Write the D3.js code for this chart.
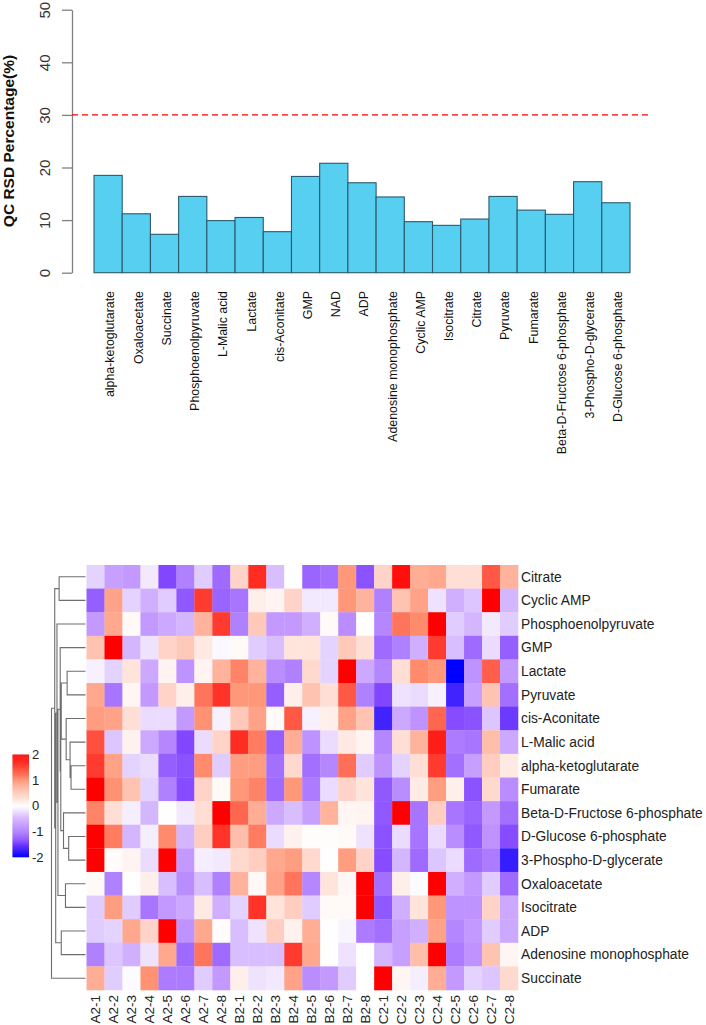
<!DOCTYPE html>
<html>
<head>
<meta charset="utf-8">
<script src="https://d3js.org/d3.v7.min.js"></script>
<style>
	html, body { margin: 0; padding: 0; background: #fff; }
	svg { display: block; }
	text { font-family: "Liberation Sans", Arial, sans-serif; fill: #222; }
</style>
</head>
<body>
<script>

var svgWidth = 706
var svgHeight = 1025

// top chart
var metabolites = ["alpha-ketoglutarate", "Oxaloacetate", "Succinate", "Phosphoenolpyruvate", "L-Malic acid", "Lactate", "cis-Aconitate", "GMP", "NAD", "ADP", "Adenosine monophosphate", "Cyclic AMP", "Isocitrate", "Citrate", "Pyruvate", "Fumarate", "Beta-D-Fructose 6-phosphate", "3-Phospho-D-glycerate", "D-Glucose 6-phosphate"]
var rsd = [18.5, 11.2, 7.3, 14.5, 9.9, 10.5, 7.8, 18.3, 20.8, 17.1, 14.4, 9.7, 9.0, 10.2, 14.5, 11.9, 11.1, 17.3, 13.3]
var rsdTicks = [0, 10, 20, 30, 40, 50]
var rsdLimit = 30

// heatmap
var samples = ["A2-1", "A2-2", "A2-3", "A2-4", "A2-5", "A2-6", "A2-7", "A2-8", "B2-1", "B2-2", "B2-3", "B2-4", "B2-5", "B2-6", "B2-7", "B2-8", "C2-1", "C2-2", "C2-3", "C2-4", "C2-5", "C2-6", "C2-7", "C2-8"]
var rows = ["Citrate", "Cyclic AMP", "Phosphoenolpyruvate", "GMP", "Lactate", "Pyruvate", "cis-Aconitate", "L-Malic acid", "alpha-ketoglutarate", "Fumarate", "Beta-D-Fructose 6-phosphate", "D-Glucose 6-phosphate", "3-Phospho-D-glycerate", "Oxaloacetate", "Isocitrate", "ADP", "Adenosine monophosphate", "Succinate"]
var zscores = [
	[-0.3, -0.65, -0.7, -0.15, -1.4, -0.9, -0.35, -1.1, 0.4, 1.7, -0.45, 0, -1.15, -1.05, 0.95, -1.3, 0.4, 1.9, 0.75, 0.8, 0.3, 0.3, 1.4, 0.7],
	[-1.2, 0.85, -0.3, -0.55, -0.35, -1.25, 1.6, -1.15, -1.0, 0.15, 0.1, 0.4, -0.15, -0.15, 0.95, 0.7, -0.9, 0.55, 0.85, -0.2, -0.55, -0.4, 2, -0.5],
	[-0.7, 0.8, 0.05, -0.7, -0.6, -0.5, 0.7, 1.6, -0.9, 0.5, -0.7, -0.7, -0.55, 0.05, -0.8, 0, -0.85, 1.2, 1.05, 2, -0.35, -0.5, -0.15, -0.35],
	[0.55, 2, -0.5, -0.2, 0.4, 0.5, 0.2, -0.05, 0.05, -0.35, -0.45, 0.25, 0.25, -0.3, 0.5, 0.3, -1.1, -0.9, -0.55, 1.6, -0.45, -1.1, -0.25, -1.2],
	[-0.1, -0.3, 0.25, -0.6, 0.1, -0.75, 0.1, 0.7, 1.1, 0.7, -0.8, -0.9, 0.35, -0.3, 2, -0.6, -0.85, 0.3, 1.05, 0.95, -2, -0.75, 1.35, -0.7],
	[0.8, -1.0, 0.08, -0.7, 0.4, 0.15, 1.2, 1.65, 0.95, 0.95, -1.2, 0.15, 0.55, 0.3, 1.4, -0.9, -1.4, -0.2, -0.25, -0.1, -1.7, -0.65, 0.55, -1.05],
	[0.9, 0.85, 0.3, -0.25, -0.25, -0.7, 1.0, -0.1, 0.5, 0.85, 0.05, 1.4, -0.1, 0.15, 0.85, 0.55, -1.7, -0.6, -0.75, 1.3, -1.35, -1.3, -0.4, -1.5],
	[1.45, -0.4, 0.12, -0.6, -0.85, -1.4, -0.25, 0.4, 1.7, 1.15, -1.2, 0.75, -0.75, -0.25, 0.2, 0.1, -0.85, 0.3, 0.7, 1.8, -0.95, -1.0, 0.6, -0.6],
	[1.6, 0.85, -0.3, -0.25, -1.2, -1.3, 1.05, -0.35, 0.9, 0.9, -1.05, 0.35, -1.05, -0.85, 1.25, -0.35, -0.75, -0.3, 0.3, 1.6, -1.05, -0.65, 0.45, 0.2],
	[2, 1.0, 0.55, -0.3, -0.9, -1.35, 0.4, 0.05, 0.95, 1.1, -1.1, 0.95, -0.95, -0.25, 0.4, 0.25, -1.25, -0.8, 0.18, 0.9, 0.15, -1.3, 0.35, -0.8],
	[1.1, 0.3, -0.12, -0.5, 0, -0.15, 0.3, 2, 1.3, 0.75, -0.6, -0.45, -0.65, 0.7, 0.08, 0.1, -1.25, 2, -1.0, 0.45, -1.0, -1.15, -0.7, -1.05],
	[2, 1.15, -0.5, -0.12, 1.05, -0.5, 0.45, 1.65, 0.6, 1.15, -0.25, 0.12, 0.02, 0.02, 0.05, -0.2, -1.3, -0.25, -1.0, -0.25, -0.8, -1.25, -0.75, -1.35],
	[2, 0.03, 0.1, -0.25, 2, -0.7, -0.12, -0.15, 0.35, 0.45, 0.8, 0.9, 0.35, 0.01, 0.9, 0.4, -1.35, -0.5, -1.1, -0.4, -0.25, -1.1, -0.95, -1.75],
	[0.05, -0.9, 0, 0.15, -0.45, -0.8, -0.45, -0.9, 0.7, 0.06, 0.85, 1.2, -0.85, 0.25, 0.07, 2, -1.05, 0.15, -0.03, 2, -0.55, -0.7, -0.35, -1.1],
	[-0.35, 0.9, -0.35, -1.0, -0.7, -0.6, 0.2, -0.55, -0.3, 1.65, 0.25, 0.45, -0.35, 0.05, 0.05, 2, -1.25, -0.55, 0.25, 0.95, -0.75, -0.75, 0.4, -0.6],
	[-0.35, -0.3, 0.8, 0.4, 2, -0.75, 0.8, 0.03, -0.45, -0.2, 0.45, 0.12, 0.75, 0.01, -0.07, -0.95, -1.05, -0.65, -0.55, 0.85, -0.85, -0.7, -0.35, -0.6],
	[-0.9, -0.4, -0.55, -0.2, 0.8, -1.1, 1.2, -1.1, -0.45, -0.45, -0.45, 1.6, 0.8, 0, -0.2, 0, -0.5, -0.65, 0.6, 2, -0.95, -0.75, 0.55, 0.08],
	[0.75, -0.35, -0.03, 1.0, -0.95, -0.95, -0.35, -0.7, 0.15, -0.2, -0.15, 0.85, -0.8, -0.7, -0.35, 0, 2, 0.08, -0.12, 0.75, -0.7, -0.3, -0.4, 0.35]
]
var legendTicks = [-2, -1, 0, 1, 2]

// row clustering: [height, left, right], a leaf is just the row name
var rowTree = [34.8,
	[31.5,
		[27, "Citrate", "Cyclic AMP"],
		[30.5,
			[29.2,
				"Phosphoenolpyruvate",
				[28.2,
					[25.9,
						"GMP",
						[25.3,
							[24.8,
								[18.8, "Lactate", "Pyruvate"],
								[19.8, "cis-Aconitate",
									[15.8, "L-Malic acid", [14.8, "alpha-ketoglutarate", "Fumarate"]]]
							],
							[22.5, "Beta-D-Fructose 6-phosphate", [17.2, "D-Glucose 6-phosphate", "3-Phospho-D-glycerate"]]
						]
					],
					[20.5, "Oxaloacetate", "Isocitrate"]
				]
			],
			[24.8, "ADP", "Adenosine monophosphate"]
		]
	],
	"Succinate"
]

var svg = d3.select("body").append("svg")
	.attr("width", svgWidth)
	.attr("height", svgHeight)

/////////////// bar chart

var x = d3.scaleBand().domain(metabolites).range([94, 630])
var y = d3.scaleLinear().domain([0, 50]).range([272.7, 9.7])

svg.selectAll("rect.bar")
	.data(metabolites)
	.enter().append("rect")
	.attr("class", "bar")
	.attr("x", function(d) { return x(d) })
	.attr("y", function(d, i) { return y(rsd[i]) })
	.attr("width", x.bandwidth())
	.attr("height", function(d, i) { return y(0) - y(rsd[i]) })
	.style("fill", "#56cff0")
	.style("stroke", "#2c5a6e")
	.style("stroke-width", 1.1)

var yAxis = svg.append("g")
	.attr("transform", "translate(72,0)")
	.call(d3.axisLeft(y).tickValues(rsdTicks).tickSize(10).tickSizeOuter(0))

yAxis.selectAll("path, line").style("stroke", "#808080").style("stroke-width", 1.3)
// tick groups are already placed at y(d), so the label only moves sideways
yAxis.selectAll("text")
	.attr("transform", "translate(-27,0) rotate(-90)")
	.attr("x", 0)
	.attr("y", 0)
	.attr("dy", "0.35em")
	.style("text-anchor", "middle")
	.style("font-family", "Liberation Sans")
	.style("font-size", "15px")
	.style("fill", "#333")

svg.append("text")
	.attr("transform", "translate(9,141) rotate(-90)")
	.attr("dy", "0.35em")
	.style("text-anchor", "middle")
	.style("font-size", "15.5px")
	.style("font-weight", "bold")
	.style("fill", "#111")
	.text("QC RSD Percentage(%)")

svg.append("line")
	.attr("x1", 72)
	.attr("x2", 652)
	.attr("y1", y(rsdLimit))
	.attr("y2", y(rsdLimit))
	.style("stroke", "#ff0000")
	.style("stroke-width", 1.2)
	.style("stroke-dasharray", "6,4")

svg.selectAll("text.barlabel")
	.data(metabolites)
	.enter().append("text")
	.attr("class", "barlabel")
	.attr("transform", function(d) { return "translate(" + (x(d) + x.bandwidth() / 2 + 2) + ",291) rotate(-90)" })
	.attr("dy", "0.35em")
	.style("text-anchor", "end")
	.style("font-size", "12.4px")
	.style("fill", "#111")
	.text(function(d) { return d })

/////////////// heatmap

var cx = d3.scaleBand().domain(samples).range([86.5, 518])
var cy = d3.scaleBand().domain(rows).range([565, 990])

var color = d3.scaleLinear()
	.domain([-2, -1.4, -0.7, 0, 1, 2])
	.range(["#0000ff", "#8246ff", "#c399ff", "#ffffff", "#ff9272", "#ff0000"])
	.clamp(true)

rows.forEach(function(rowName, r) {
	svg.selectAll("rect.r" + r)
		.data(zscores[r])
		.enter().append("rect")
		.attr("class", "r" + r)
		.attr("x", function(d, i) { return cx(samples[i]) })
		.attr("y", cy(rowName))
		.attr("width", cx.bandwidth() + 0.3)
		.attr("height", cy.bandwidth() + 0.3)
		.style("fill", function(d) { return color(d) })
})

svg.selectAll("text.rowlabel")
	.data(rows)
	.enter().append("text")
	.attr("class", "rowlabel")
	.attr("x", 521)
	.attr("y", function(d) { return cy(d) + cy.bandwidth() / 2 })
	.attr("dy", "0.35em")
	.style("font-size", "13.8px")
	.text(function(d) { return d })

svg.selectAll("text.collabel")
	.data(samples)
	.enter().append("text")
	.attr("class", "collabel")
	.attr("transform", function(d) { return "translate(" + (cx(d) + cx.bandwidth() / 2) + ",995) rotate(-90)" })
	.attr("dy", "0.35em")
	.style("text-anchor", "end")
	.style("font-size", "13.5px")
	.text(function(d) { return d })

/////////////// dendrogram

var root = d3.hierarchy(rowTree, function(d) { return typeof d === "string" ? null : d.slice(1) })
var treeX = d3.scaleLinear().domain([0, 34.8]).range([85.5, 51.5])

root.eachAfter(function(n) {
	if (n.children) {
		n.ypos = (n.children[0].ypos + n.children[1].ypos) / 2
		n.h = n.data[0]
	} else {
		n.ypos = cy(n.data) + cy.bandwidth() / 2
		n.h = 0
	}
})

var treePath = d3.path()
root.descendants().forEach(function(n) {
	if (!n.children) return
	var c0 = n.children[0], c1 = n.children[1]
	treePath.moveTo(treeX(c0.h), c0.ypos)
	treePath.lineTo(treeX(n.h), c0.ypos)
	treePath.lineTo(treeX(n.h), c1.ypos)
	treePath.lineTo(treeX(c1.h), c1.ypos)
})

svg.append("path")
	.attr("d", treePath.toString())
	.style("fill", "none")
	.style("stroke", "#6e6e6e")
	.style("stroke-width", 1.1)

/////////////// colour legend

var legendY = d3.scaleLinear().domain([-2, 2]).range([857, 754.5])
var legendSteps = d3.range(-2, 2, 0.04)

svg.selectAll("rect.legend")
	.data(legendSteps)
	.enter().append("rect")
	.attr("class", "legend")
	.attr("x", 12.5)
	.attr("width", 16.5)
	.attr("y", function(d) { return legendY(d + 0.04) })
	.attr("height", legendY(0) - legendY(0.04) + 0.3)
	.style("fill", function(d) { return color(d + 0.02) })

svg.selectAll("text.legendlabel")
	.data(legendTicks)
	.enter().append("text")
	.attr("class", "legendlabel")
	.attr("x", 32)
	.attr("y", function(d) { return legendY(d) })
	.attr("dy", "0.35em")
	.style("font-size", "13px")
	.text(function(d) { return d })

</script>
</body>
</html>
